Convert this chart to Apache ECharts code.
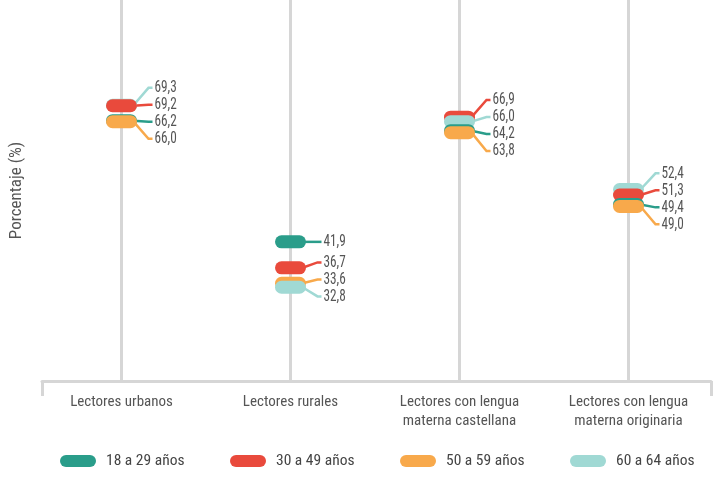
<!DOCTYPE html>
<html><head><meta charset="utf-8">
<script src="https://cdn.jsdelivr.net/npm/echarts@6/dist/echarts.min.js"></script>
<style>html,body{margin:0;padding:0;background:#fff}#c{width:713px;height:498px}</style>
</head><body><div id="c"></div>
<script>
// ---- data ----
const categories = ['Lectores urbanos', 'Lectores rurales', 'Lectores con lengua\nmaterna castellana', 'Lectores con lengua\nmaterna originaria'];
const seriesNames = ['18 a 29 años', '30 a 49 años', '50 a 59 años', '60 a 64 años'];
const age18to29 = [66.2, 41.9, 64.2, 49.4];
const age30to49 = [69.2, 36.7, 66.9, 51.3];
const age50to59 = [66.0, 33.6, 63.8, 49.0];
const age60to64 = [69.3, 32.8, 66.0, 52.4];
const yAxisTitle = 'Porcentaje (%)';

// ---- styles ----
const allValues = [age18to29, age30to49, age50to59, age60to64];
const colors = ['#2a9d8a', '#e94a3c', '#f8a94b', '#a0d9d4'];
const FAMILY = 'Roboto, "Liberation Sans", sans-serif';
const GRAY = '#d6d6d6';
const LABEL_GAP = 17;

function spread(ys, gap) {
  const order = ys.map((y, i) => i).sort((a, b) => ys[a] - ys[b]);
  let clusters = order.map(i => ({ m: [i], s: ys[i] }));
  let changed = true;
  while (changed) {
    changed = false;
    for (let k = 0; k < clusters.length - 1; k++) {
      const a = clusters[k], b = clusters[k + 1];
      if (a.s + a.m.length * gap > b.s) {
        const m = a.m.concat(b.m);
        let sum = 0;
        m.forEach((idx, j) => { sum += ys[idx] - j * gap; });
        clusters.splice(k, 2, { m: m, s: sum / m.length });
        changed = true;
        break;
      }
    }
  }
  const out = [];
  clusters.forEach(c => c.m.forEach((idx, j) => { out[idx] = c.s + j * gap; }));
  return out;
}

const chart = echarts.init(document.getElementById('c'));

function pillSeries(si) {
  return {
    name: seriesNames[si],
    type: 'custom',
    xAxisIndex: 0, yAxisIndex: 0,
    itemStyle: { color: colors[si] },
    data: allValues[si].map((v, ci) => [ci, v]),
    renderItem: function (params, api) {
      const ci = api.value(0), v = api.value(1);
      const p = api.coord([ci, v]);
      const ys = allValues.map(arr => api.coord([ci, arr[ci]])[1]);
      const ly = spread(ys, LABEL_GAP)[si];
      const cx = p[0], cy = p[1];
      const w = 31, h = 13;
      const z = Math.round(2000 - v * 10);
      return {
        type: 'group',
        children: [
          {
            type: 'polyline', z2: 1,
            shape: { points: [[cx + 12, cy], [cx + 27, ly], [cx + 31, ly]] },
            style: { stroke: colors[si], lineWidth: 2.5, fill: null }
          },
          {
            type: 'rect', z2: z,
            shape: { x: cx - w / 2, y: cy - h / 2, width: w, height: h, r: h / 2 },
            style: { fill: colors[si] }
          },
          {
            type: 'text', z2: 5000,
            x: cx + 33, y: ly, scaleX: 0.78, scaleY: 1,
            style: {
              text: v.toFixed(1).replace('.', ','),
              fill: '#555', font: 'condensed normal 17px ' + FAMILY,
              align: 'left', verticalAlign: 'middle',
              textAlign: 'left', textVerticalAlign: 'middle'
            }
          }
        ]
      };
    }
  };
}

const legendIcon = 'path://M6,0H30A6,6,0,0,1,30,12H6A6,6,0,0,1,6,0Z';

const option = {
  animation: false,
  color: colors,
  grid: [
    { left: 34, right: -1, top: 0, bottom: 117 },
    { left: 42, right: 2, top: 0, bottom: 117 }
  ],
  xAxis: [
    {
      type: 'category', gridIndex: 0, data: categories, boundaryGap: true,
      axisLine: { show: false }, axisTick: { show: false }, splitLine: { show: false },
      axisLabel: {
        color: '#555', fontFamily: FAMILY, fontStyle: 'condensed', fontSize: 15,
        lineHeight: 19, margin: 12, interval: 0
      }
    },
    {
      type: 'value', gridIndex: 1, min: 0, max: 1, interval: 1,
      axisLine: { show: true, lineStyle: { color: GRAY, width: 3 } },
      axisTick: { show: true, length: 15, inside: false, lineStyle: { color: GRAY, width: 3 } },
      axisLabel: { show: false }, splitLine: { show: false }
    }
  ],
  yAxis: [
    {
      type: 'value', gridIndex: 0, min: 14, max: 90.4,
      name: yAxisTitle, nameLocation: 'middle', nameRotate: 90, nameGap: 12,
      nameTextStyle: { color: '#555', fontFamily: FAMILY, fontStyle: 'condensed', fontSize: 17 },
      axisLine: { show: false }, axisTick: { show: false }, axisLabel: { show: false }, splitLine: { show: false }
    },
    {
      type: 'value', gridIndex: 1, show: false, min: 0, max: 1
    }
  ],
  legend: seriesNames.map((n, i) => ({
    data: [{ name: n, icon: legendIcon }],
    left: 60 + 170 * i, top: 453, padding: 0,
    itemWidth: 36, itemHeight: 12,
    selectedMode: false,
    textStyle: { color: '#444', fontFamily: FAMILY, fontStyle: 'condensed', fontSize: 15.5, padding: [0, 0, 0, 5] }
  })),
  series: [
    {
      type: 'custom', xAxisIndex: 0, yAxisIndex: 0, silent: true, z: 1,
      data: categories.map((c, i) => [i, 14]),
      renderItem: function (params, api) {
        const x = api.coord([api.value(0), 14])[0];
        const cs = params.coordSys;
        return {
          type: 'line',
          shape: { x1: x, y1: cs.y, x2: x, y2: cs.y + cs.height },
          style: { stroke: GRAY, lineWidth: 3 }
        };
      }
    },
    pillSeries(0), pillSeries(1), pillSeries(2), pillSeries(3)
  ]
};
chart.setOption(option);
</script>
</body></html>
